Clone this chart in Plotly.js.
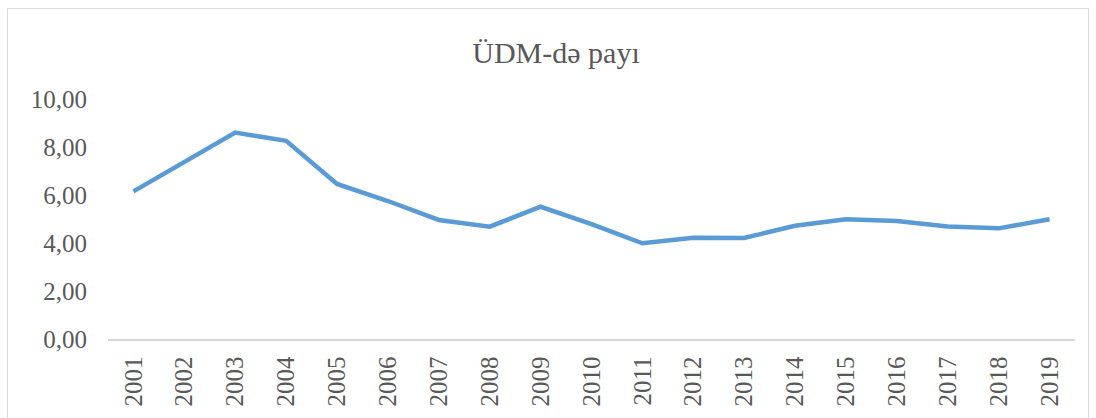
<!DOCTYPE html>
<html>
<head>
<meta charset="utf-8">
<script src="https://cdn.plot.ly/plotly-3.0.1.min.js"></script>
<style>html,body{margin:0;padding:0;background:#fff;}#chart{width:1096px;height:418px;}</style>
</head>
<body>
<div id="chart"></div>
<script>
const years = ["2001","2002","2003","2004","2005","2006","2007","2008","2009","2010","2011","2012","2013","2014","2015","2016","2017","2018","2019"];
const values = [6.15, 7.38, 8.60, 8.26, 6.46, 5.75, 4.96, 4.68, 5.51, 4.79, 3.99, 4.22, 4.21, 4.72, 4.99, 4.92, 4.69, 4.61, 4.99];
const yTicks = [0, 2, 4, 6, 8, 10];
const yTickText = ["0,00", "2,00", "4,00", "6,00", "8,00", "10,00"];

const W = 1096, H = 418;
const L = 108, R = 21, T = 99, B = 79;
const pw = W - L - R, ph = H - T - B;
function px(x){ return (x - L) / pw; }
function py(y){ return (H - B - y) / ph; }

const font = "'Liberation Serif', 'Times New Roman', serif";

Plotly.newPlot("chart", [{
  x: years,
  y: values,
  type: "scatter",
  mode: "lines",
  line: {color: "#5B9BD5", width: 4.5},
  hoverinfo: "skip"
}], {
  width: W, height: H,
  margin: {l: L, r: R, t: T, b: B, pad: 0},
  paper_bgcolor: "#fff",
  plot_bgcolor: "#fff",
  showlegend: false,
  font: {family: font},
  title: {
    text: "ÜDM-də payı",
    font: {family: font, size: 30, color: "#595959"},
    x: 556 / W, xref: "container", xanchor: "center",
    y: 1 - 52 / H, yref: "container", yanchor: "middle"
  },
  xaxis: {
    type: "category",
    range: [-0.5, years.length - 0.5],
    showgrid: false,
    zeroline: false,
    showline: true,
    linecolor: "#D9D9D9",
    linewidth: 1.5,
    ticks: "",
    tickangle: -90,
    ticklabelstandoff: 6,
    tickfont: {family: font, size: 25, color: "#595959"}
  },
  yaxis: {
    range: [0, 10],
    tickvals: yTicks,
    ticktext: yTickText,
    showgrid: false,
    zeroline: false,
    showline: false,
    ticks: "",
    ticklabelstandoff: 20,
    tickfont: {family: font, size: 25, color: "#595959"}
  },
  shapes: [{
    type: "rect", xref: "paper", yref: "paper",
    x0: px(7.5), x1: px(1088.5), y0: py(430), y1: py(8.5),
    line: {color: "#D9D9D9", width: 1}, fillcolor: "rgba(0,0,0,0)", layer: "below"
  }]
}, {staticPlot: true, displayModeBar: false});
</script>
</body>
</html>
